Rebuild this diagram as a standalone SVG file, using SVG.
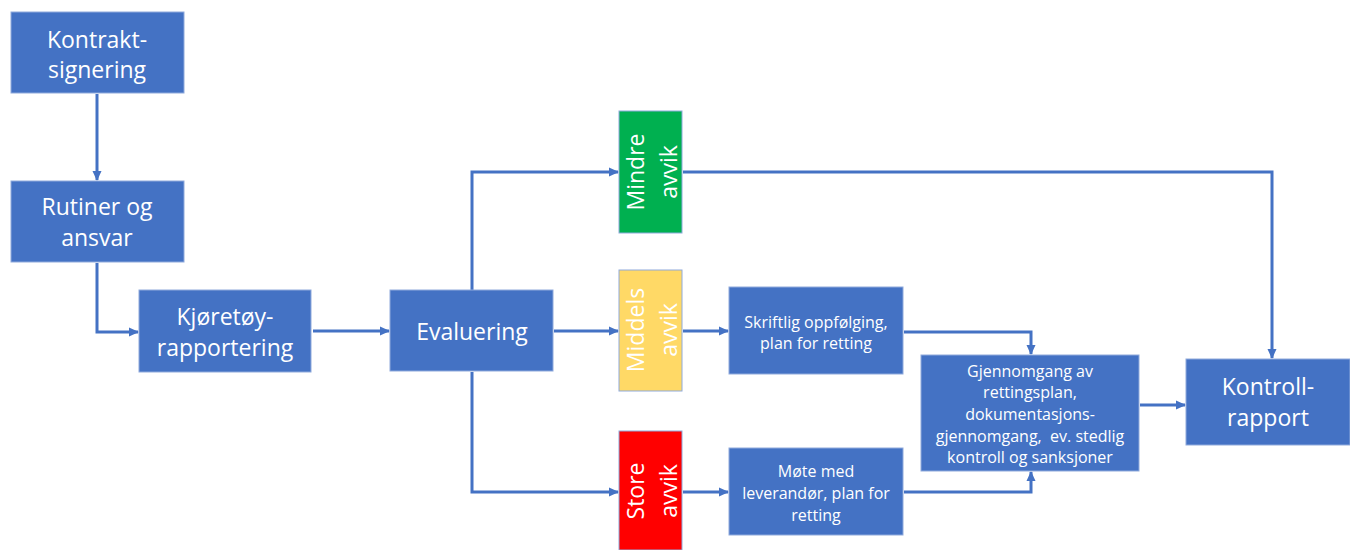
<svg xmlns="http://www.w3.org/2000/svg" width="1350" height="550" viewBox="0 0 1350 550">
<defs>
<marker id="ah" markerWidth="11" markerHeight="11" refX="10" refY="5.5" orient="auto" markerUnits="userSpaceOnUse">
<path d="M1,1 L11,5.5 L1,10 Z" fill="#4472C4"/>
</marker>
<style>
.box{fill:#4472C4;stroke:#8FAADC;stroke-width:1}
.g{fill:#00B050;stroke:#8FAADC;stroke-width:1}
.y{fill:#FFD966;stroke:#8FAADC;stroke-width:1}
.r{fill:#FF0000;stroke:#8FAADC;stroke-width:1}
.t{font-family:"Open Sans",Lato,"Liberation Sans",sans-serif;fill:#fff;text-anchor:middle}
.big{font-size:23px}
.sm{font-size:16px}
.c{fill:none;stroke:#4472C4;stroke-width:3;marker-end:url(#ah)}
</style>
</defs>
<rect width="1350" height="550" fill="#fff"/>
<g id="connectors">
<path class="c" d="M97,94 V180"/>
<path class="c" d="M97,263 V332 H138"/>
<path class="c" d="M313,331 H389"/>
<path class="c" d="M472,290 V172 H618"/>
<path class="c" d="M554,331 H618"/>
<path class="c" d="M472,372 V492 H618"/>
<path class="c" d="M683,172 H1272 V358"/>
<path class="c" d="M683,331 H728"/>
<path class="c" d="M683,492 H728"/>
<path class="c" d="M904,332 H1031 V354"/>
<path class="c" d="M904,492 H1031 V472"/>
<path class="c" d="M1140,405 H1185"/>
</g>
<g id="kontraktsignering">
<rect class="box" x="11" y="12" width="173" height="81"/>
<text class="t big" x="97" y="48">Kontrakt-</text>
<text class="t big" x="97" y="78">signering</text>
</g>
<g id="rutiner">
<rect class="box" x="11" y="181" width="173" height="81"/>
<text class="t big" x="97" y="215">Rutiner og</text>
<text class="t big" x="97" y="246">ansvar</text>
</g>
<g id="kjoretoy">
<rect class="box" x="139" y="290" width="172" height="82"/>
<text class="t big" x="225" y="325">Kjøretøy-</text>
<text class="t big" x="225" y="356">rapportering</text>
</g>
<g id="evaluering">
<rect class="box" x="390" y="290" width="163" height="81"/>
<text class="t big" x="472" y="340">Evaluering</text>
</g>
<g id="mindre">
<rect class="g" x="619" y="111" width="63" height="122"/>
<text class="t big" transform="translate(650.5,172) rotate(-90)"><tspan x="0" y="-7">Mindre</tspan><tspan x="0" y="26">avvik</tspan></text>
</g>
<g id="middels">
<rect class="y" x="619" y="270" width="63" height="121"/>
<text class="t big" transform="translate(650.5,330) rotate(-90)"><tspan x="0" y="-7">Middels</tspan><tspan x="0" y="26">avvik</tspan></text>
</g>
<g id="store">
<rect class="r" x="619" y="431" width="63" height="119"/>
<text class="t big" transform="translate(650.5,491) rotate(-90)"><tspan x="0" y="-7">Store</tspan><tspan x="0" y="26">avvik</tspan></text>
</g>
<g id="skriftlig">
<rect class="box" x="729" y="287" width="174" height="87"/>
<text class="t sm" x="816" y="328">Skriftlig oppfølging,</text>
<text class="t sm" x="816" y="349">plan for retting</text>
</g>
<g id="mote">
<rect class="box" x="729" y="448" width="174" height="87"/>
<text class="t sm" x="816" y="477">Møte med</text>
<text class="t sm" x="816" y="499">leverandør, plan for</text>
<text class="t sm" x="816" y="521">retting</text>
</g>
<g id="gjennomgang">
<rect class="box" x="921" y="355" width="218" height="116"/>
<text class="t sm" x="1030" y="377">Gjennomgang av</text>
<text class="t sm" x="1030" y="398">rettingsplan,</text>
<text class="t sm" x="1030" y="420">dokumentasjons-</text>
<text class="t sm" x="1030" y="442" xml:space="preserve">gjennomgang,  ev. stedlig</text>
<text class="t sm" x="1030" y="463">kontroll og sanksjoner</text>
</g>
<g id="kontrollrapport">
<rect class="box" x="1186" y="359" width="164" height="86"/>
<text class="t big" x="1268" y="395">Kontroll-</text>
<text class="t big" x="1268" y="426">rapport</text>
</g>
</svg>
